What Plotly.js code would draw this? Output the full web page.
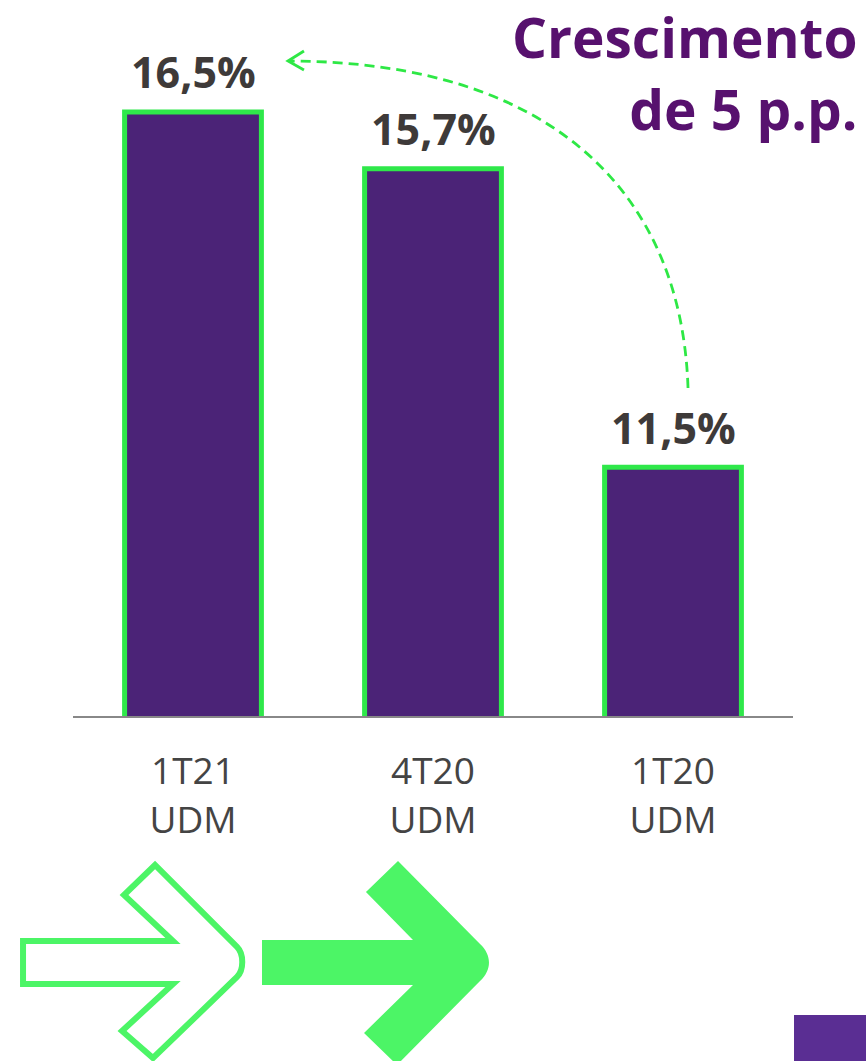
<!DOCTYPE html>
<html><head><meta charset="utf-8">
<script src="https://cdn.plot.ly/plotly-3.0.1.min.js"></script>
<style>html,body{margin:0;padding:0;background:#fff}#c{width:866px;height:1061px}</style>
</head><body><div id="c"></div>
<script>
const categories = ["1T21<br>UDM", "4T20<br>UDM", "1T20<br>UDM"];
const values = [16.5, 15.7, 11.5];
const valueLabels = ["16,5%", "15,7%", "11,5%"];
const titleText = "Crescimento<br>de 5 p.p.";

const W = 866, H = 1061, L = 73, R = 73, T = 0, B = 345;
const PW = W - L - R, PH = H - T - B;
const px = x => ((x - L) / PW).toFixed(4);
const py = y => ((H - B - y) / PH).toFixed(4);
function path(pts, close) {
  return pts.map((p, i) => (p[0] === 'C' ? 'C' + p.slice(1).map(q => px(q[0]) + ',' + py(q[1])).join(' ')
    : (i === 0 ? 'M' : 'L') + px(p[0]) + ',' + py(p[1]))).join(' ') + (close ? ' Z' : '');
}

const green = '#4cf566';
const shapes = [
  // dashed curved arrow
  {type: 'path', xref: 'paper', yref: 'paper', layer: 'above',
   path: path([[688, 388], ['C', [682, 200], [560, 62], [290, 61]]]),
   line: {color: '#2ee845', width: 2.8, dash: '10px,6px'}},
  {type: 'path', xref: 'paper', yref: 'paper', layer: 'above',
   path: path([[304, 51], [288, 61], [304, 70]]),
   line: {color: '#2ee845', width: 2.8}},
  // outlined arrow
  {type: 'path', xref: 'paper', yref: 'paper', layer: 'above',
   path: path([[23, 941], [173, 941], [124, 895], [155, 865], [237, 947], ['C', [244, 954], [244, 970], [237, 977]],
               [153, 1058], [122, 1031], [173, 984], [23, 984]], true),
   line: {color: green, width: 6}, fillcolor: 'rgba(0,0,0,0)'},
  // filled arrow
  {type: 'path', xref: 'paper', yref: 'paper', layer: 'above',
   path: path([[262, 940], [413, 940], [366, 892], [398, 861], [480, 944], ['C', [492, 955], [492, 970], [480, 981]],
               [397, 1065], [364, 1033], [413, 985], [262, 985]], true),
   line: {width: 0}, fillcolor: green},
  // purple block bottom right
  {type: 'rect', xref: 'paper', yref: 'paper', layer: 'above',
   x0: px(794), x1: px(870), y0: py(1015), y1: py(1066),
   line: {width: 0}, fillcolor: '#5a2e93'}
];

const annotations = categories.map((c, i) => ({
  x: c, y: values[i], xref: 'x', yref: 'y', text: valueLabels[i],
  showarrow: false, yanchor: 'middle', yshift: 40,
  font: {family: 'Open Sans', size: 43, weight: 700, color: '#3e3a39'}
}));
annotations.push({
  x: px(860), y: py(-3), xref: 'paper', yref: 'paper', xanchor: 'right', yanchor: 'top',
  align: 'right', showarrow: false, text: titleText,
  font: {family: 'Open Sans', size: 55, weight: 700, color: '#57116e'}
});

const data = [{
  type: 'bar', x: categories, y: values,
  marker: {color: '#4b2377', line: {color: '#2fe84a', width: 5}},
  hoverinfo: 'none', cliponaxis: false
}];

const layout = {
  width: W, height: H,
  margin: {l: L, r: R, t: T, b: B},
  paper_bgcolor: '#fff', plot_bgcolor: '#fff',
  showlegend: false, bargap: 0.43,
  xaxis: {showline: true, linecolor: '#888', linewidth: 2, showgrid: false, zeroline: false,
          ticks: '', ticklabelstandoff: 22,
          tickfont: {family: 'Open Sans', size: 37, color: '#444'}, fixedrange: true},
  yaxis: {visible: false, range: [8, 8 + PH / 71.06], fixedrange: true},
  shapes: shapes, annotations: annotations
};
Plotly.newPlot('c', data, layout, {displayModeBar: false, staticPlot: true});
</script></body></html>
